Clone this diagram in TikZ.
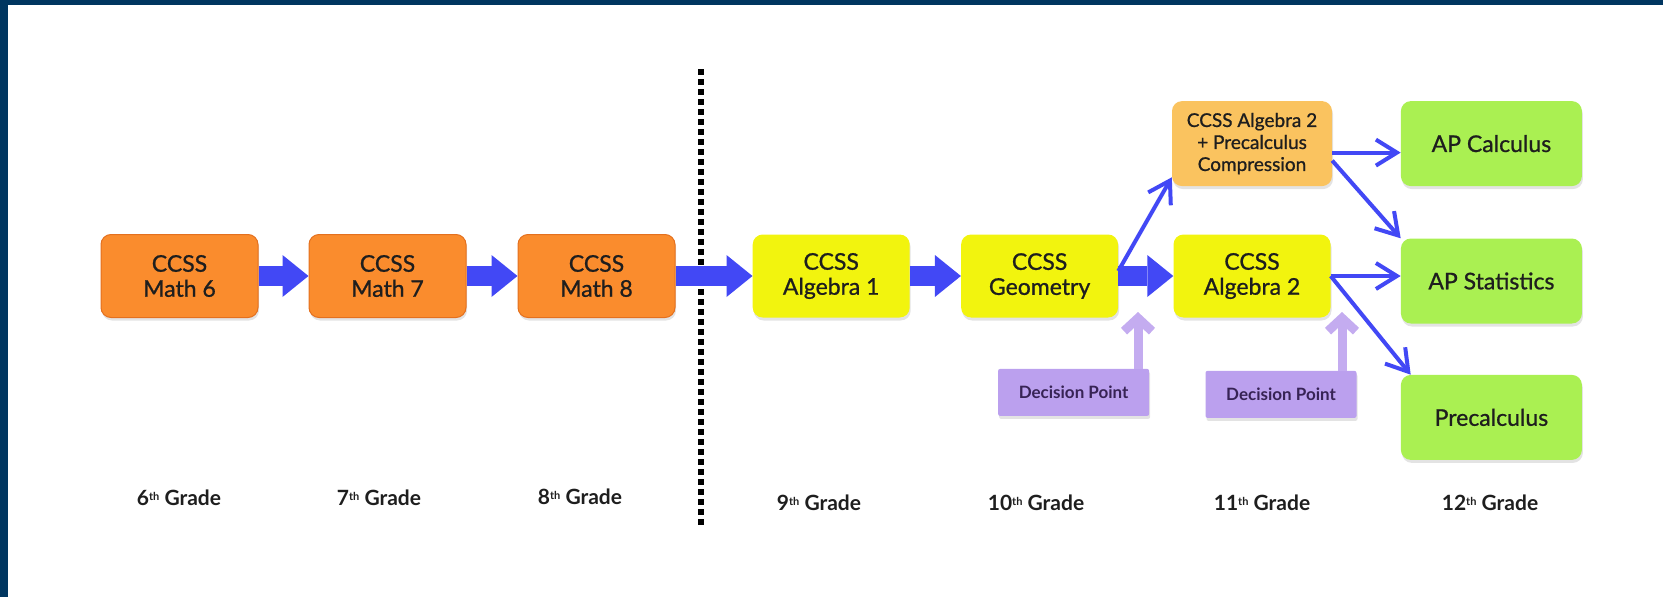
\documentclass[tikz,border=0pt]{standalone}
\usepackage{fontspec}
\setmainfont{Lato}
\newfontfamily\boxfont{Lato}[FakeBold=0.9]
\usepackage{tikz}
\usetikzlibrary{positioning, arrows.meta, shadows}
\definecolor{navyframe}{RGB}{0,54,96}
\definecolor{mathorange}{RGB}{250,140,45}
\definecolor{mathorangeedge}{RGB}{228,112,30}
\definecolor{hsyellow}{RGB}{242,244,14}
\definecolor{compressorange}{RGB}{250,195,95}
\definecolor{apgreen}{RGB}{170,240,82}
\definecolor{decisionpurple}{RGB}{187,160,238}
\definecolor{decisionarrow}{RGB}{196,172,240}
\definecolor{decisiontext}{RGB}{55,35,85}
\definecolor{flowblue}{RGB}{66,72,245}
\definecolor{labeltext}{RGB}{30,30,30}
\newcommand{\gradesup}[1]{\raisebox{5pt}{\fontsize{11}{11}\selectfont #1}}

\begin{document}
\begin{tikzpicture}[
    x=1pt, y=1pt,
    every node/.style={align=center, text=labeltext},
    box/.style     ={rounded corners=10pt, minimum width=157pt, minimum height=83pt,
                     font=\boxfont\fontsize{23}{25}\selectfont,
                     drop shadow={opacity=0.22, shadow xshift=1pt, shadow yshift=-3pt}},
    mathbox/.style ={box, fill=mathorange, draw=mathorangeedge, line width=1pt},
    hsbox/.style   ={box, fill=hsyellow},
    compbox/.style ={box, fill=compressorange, minimum width=160pt, minimum height=85pt,
                     font=\boxfont\fontsize{19}{22}\selectfont},
    apbox/.style   ={box, fill=apgreen, minimum width=181pt, minimum height=85pt,
                     font=\boxfont\fontsize{23}{25}\selectfont},
    decision/.style={fill=decisionpurple, rounded corners=2pt, minimum width=151pt,
                     minimum height=47pt, text=decisiontext,
                     font=\bfseries\fontsize{17}{19}\selectfont,
                     drop shadow={opacity=0.22, shadow xshift=1pt, shadow yshift=-3pt}},
    grade/.style   ={font=\bfseries\fontsize{21}{24}\selectfont},
    bigarrow/.style ={-{Triangle[length=26pt, width=42pt, line width=0pt]}, line width=20pt, draw=flowblue},
    thinarrow/.style={-{Straight Barb[length=21pt, width=26pt]}, line width=4pt, draw=flowblue},
    dparrow/.style  ={-{Straight Barb[length=13pt, width=28pt]}, line width=9pt, draw=decisionarrow},
    divider/.style  ={line width=6pt, dash pattern=on 6pt off 4pt}
]
\useasboundingbox (0,0) rectangle (1663,-597);

% Frame
\fill[navyframe] (0,0) rectangle (1663,-5);
\fill[navyframe] (0,0) rectangle (8,-597);

% Divider between middle school and high school
\draw[divider] (701,-69) -- (701,-525);

% Row 1: middle school
\node[mathbox] (m6) at (179.5,-276) {CCSS\\Math 6};
\node[mathbox, right=50pt of m6] (m7) {CCSS\\Math 7};
\node[mathbox, right=51pt of m7] (m8) {CCSS\\Math 8};

% Row 1: high school
\node[hsbox, right=77pt of m8]   (alg1) {CCSS\\Algebra 1};
\node[hsbox, right=51pt of alg1] (geo)  {CCSS\\Geometry};
\node[hsbox, right=55pt of geo]  (alg2) {CCSS\\Algebra 2};
\node[compbox, above=48pt of alg2] (comp) {CCSS Algebra 2\\+ Precalculus\\Compression};

% 12th grade options
\node[apbox, right=70pt of alg2, yshift=-5pt] (apstat)  {AP Statistics};
\node[apbox, above=52pt of apstat]            (apcalc)  {AP Calculus};
\node[apbox, below=51pt of apstat]            (precalc) {Precalculus};

% Decision points
\node[decision, below=51pt of geo, xshift=34pt]  (dp1) {Decision Point};
\node[decision, below=53pt of alg2, xshift=29pt] (dp2) {Decision Point};
\coordinate (dp1tip) at (1138,-312);
\coordinate (dp2tip) at (1342,-312);

% Grade labels
\node[grade] (g6)  at (179,-498)  {6\gradesup{th} Grade};
\node[grade] (g7)  at (379,-498)  {7\gradesup{th} Grade};
\node[grade] (g8)  at (580,-497)  {8\gradesup{th} Grade};
\node[grade] (g9)  at (819,-503)  {9\gradesup{th} Grade};
\node[grade] (g10) at (1036,-503) {10\gradesup{th} Grade};
\node[grade] (g11) at (1262,-503) {11\gradesup{th} Grade};
\node[grade] (g12) at (1490,-503) {12\gradesup{th} Grade};

% Arrows
\draw[bigarrow] (m6)   -- (m7);
\draw[bigarrow] (m7)   -- (m8);
\draw[bigarrow] (m8)   -- (alg1);
\draw[bigarrow] (alg1) -- (geo);
\draw[bigarrow] (geo)  -- (alg2);
\draw[thinarrow] ([yshift=5pt]geo.east) -- ([yshift=9pt]comp.south west);
\draw[thinarrow] ([yshift=-9pt]comp.east) -- ([yshift=-9pt]comp.east -| apcalc.west);
\draw[thinarrow] ([yshift=-17pt]comp.east) -- (apstat.north west);
\draw[thinarrow] (alg2.east) -- (alg2.east -| apstat.west);
\draw[thinarrow] (alg2.east) -- ([xshift=10pt]precalc.north west);
\draw[dparrow] (dp1tip |- dp1.north) -- (dp1tip);
\draw[dparrow] (dp2tip |- dp2.north) -- (dp2tip);

\end{tikzpicture}
\end{document}
